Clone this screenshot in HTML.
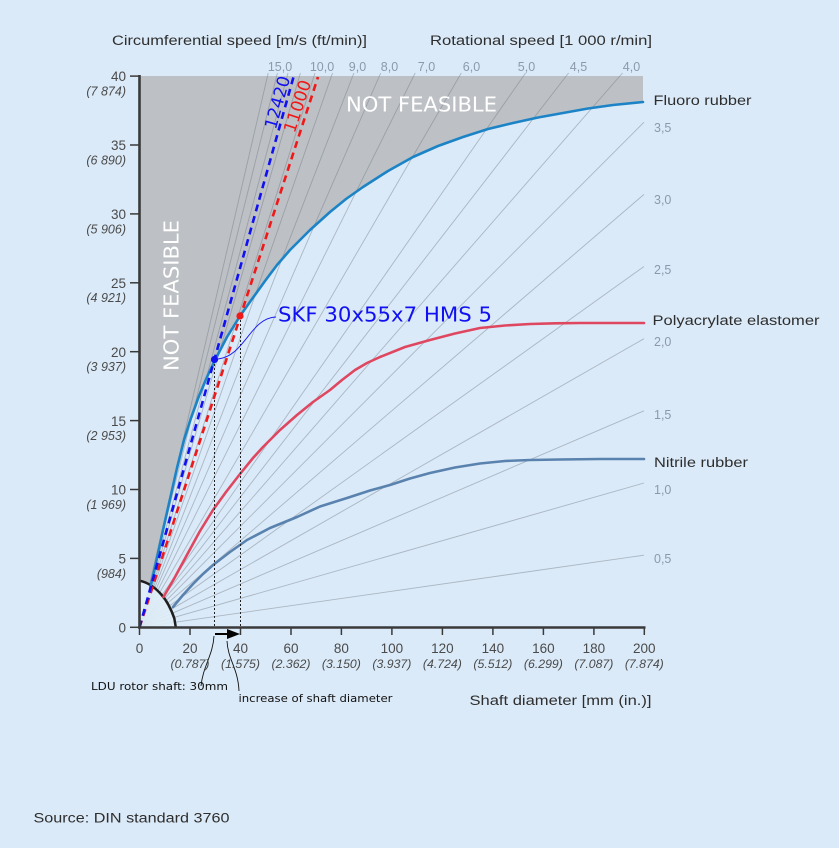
<!DOCTYPE html>
<html><head><meta charset="utf-8"><style>
html,body{margin:0;padding:0;background:#dbeaf8;}
svg{display:block;}
.t{font-family:"Liberation Sans","DejaVu Sans",sans-serif;}
.d{font-family:"DejaVu Sans","Liberation Sans",sans-serif;}
</style></head><body>
<svg width="839" height="848" viewBox="0 0 839 848" xmlns="http://www.w3.org/2000/svg">
<rect x="0" y="0" width="839" height="848" fill="#dbeaf8"/>

<!-- gray not-feasible region -->
<path fill="#bdc1c5" d="M139.5,76 L643,76 L643,102 L613,105 L588,108.5 L563,113 L538,117.5 L513,123 L488,129 L463,137 L438,146 L413,157 L388,171 L363,187 L346,199 L330,212 L310,230 L290,250 L277,265 L265,281 L252,299 L240,316 L227,337 L215,360 L207,377 L199,396 L191,418 L184,440 L177,468 L170,499 L163,530 L157,558 L150.5,586 L139.5,580.7 Z"/>

<!-- radial rotational speed lines -->
<g stroke="#6f7882" stroke-opacity="0.45" stroke-width="0.9" fill="none">
<line x1="139.5" y1="627.3" x2="644" y2="555.2"/>
<line x1="139.5" y1="627.3" x2="644" y2="483.0"/>
<line x1="139.5" y1="627.3" x2="644" y2="410.8"/>
<line x1="139.5" y1="627.3" x2="644" y2="338.7"/>
<line x1="139.5" y1="627.3" x2="644" y2="266.5"/>
<line x1="139.5" y1="627.3" x2="644" y2="194.4"/>
<line x1="139.5" y1="627.3" x2="644" y2="122.2"/>
<line x1="139.5" y1="627.3" x2="622.5" y2="73"/>
<line x1="139.5" y1="627.3" x2="568.6" y2="73"/>
<line x1="139.5" y1="627.3" x2="525.6" y2="73"/>
<line x1="139.5" y1="627.3" x2="461.3" y2="73"/>
<line x1="139.5" y1="627.3" x2="415.2" y2="73"/>
<line x1="139.5" y1="627.3" x2="380.7" y2="73"/>
<line x1="139.5" y1="627.3" x2="353.9" y2="73"/>
<line x1="139.5" y1="627.3" x2="332.5" y2="73"/>
<line x1="139.5" y1="627.3" x2="315" y2="73"/>
<line x1="139.5" y1="627.3" x2="300.4" y2="73"/>
<line x1="139.5" y1="627.3" x2="288" y2="73"/>
<line x1="139.5" y1="627.3" x2="277.4" y2="73"/>
<line x1="139.5" y1="627.3" x2="268.2" y2="73"/>
</g>

<!-- arc region fill -->
<path fill="#dfedf8" fill-opacity="0.93" d="M139.5,627.3 L139.5,580.7 C146,582 154,586 161.7,595 C167,601 171,609 174.3,618.3 L175.8,627.3 Z"/>
<path fill="none" stroke="#1e1e1e" stroke-width="2.5" d="M139.5,580.7 C146,582 154,586 161.7,595 C167,601 171,609 174.3,618.3 L175.8,627.3"/>

<!-- nitrile rubber -->
<polyline fill="none" stroke="#5a82ae" stroke-width="2.6" stroke-linejoin="round" stroke-linecap="round" points="173,607 183,595 193,584 203,574 213,565 230,552 247,540 270,528 297,517 320,506.5 347,498 370,490.5 390,485 410,478.5 430,473 455,467.5 480,463.5 505,461 530,460 560,459.5 600,459 644,459"/>

<!-- polyacrylate -->
<polyline fill="none" stroke="#df4760" stroke-width="2.6" stroke-linejoin="round" stroke-linecap="round" points="163.5,597 175,577 188,553 200,531 213,510 226,492 240,474 253,458 263,447 280,430 297,415 313,402 330,390 342,380 355,370 367,363 380,357 405,347 430,340 455,333.5 480,328 505,325.5 530,324 555,323.3 580,323 644,323"/>

<!-- fluoro rubber -->
<polyline fill="none" stroke="#1c84c6" stroke-width="2.6" stroke-linejoin="round" stroke-linecap="round" points="150.5,587 157,558 163,530 170,499 177,468 184,440 191,418 199,396 207,377 215,360 227,337 240,316 252,299 265,281 277,265 290,250 310,230 330,212 346,199 363,187 388,171 413,157 438,146 463,137 488,129 513,123 538,117.5 563,113 588,108.5 613,105 643,102"/>

<!-- dotted verticals -->
<g stroke="#222" stroke-width="1" stroke-dasharray="2,2">
<line x1="214.5" y1="360" x2="214.5" y2="627"/>
<line x1="240.5" y1="316" x2="240.5" y2="627"/>
</g>

<!-- dashed speed lines -->
<line x1="139.5" y1="627.3" x2="318" y2="77" stroke="#f01818" stroke-width="2.6" stroke-dasharray="7,5"/>
<line x1="139.5" y1="627.3" x2="293.5" y2="77" stroke="#1010f0" stroke-width="2.6" stroke-dasharray="7,5"/>

<text class="d" x="0" y="0" font-size="17" fill="#1010f0" text-anchor="middle" transform="translate(283,104) rotate(-74.4)">12420</text>
<text class="d" x="0" y="0" font-size="17" fill="#f01818" text-anchor="middle" transform="translate(303,108) rotate(-72.1)">11000</text>

<!-- dots & connector -->
<path d="M218,359 C245,356 250,318 276,317" fill="none" stroke="#1a1af0" stroke-width="0.9"/>
<circle cx="214.5" cy="359.5" r="3.6" fill="#1010f0"/>
<circle cx="240" cy="316" r="3.6" fill="#f01818"/>

<!-- NOT FEASIBLE -->
<text class="d" x="346" y="111.5" font-size="20.5" fill="#ffffff" textLength="151" lengthAdjust="spacingAndGlyphs">NOT FEASIBLE</text>
<text class="d" x="0" y="0" font-size="20.5" fill="#ffffff" textLength="151" lengthAdjust="spacingAndGlyphs" transform="translate(178.5,371) rotate(-90)">NOT FEASIBLE</text>

<!-- SKF label -->
<text class="d" x="278" y="321.5" font-size="20.5" fill="#1010f0" textLength="214" lengthAdjust="spacingAndGlyphs">SKF 30x55x7 HMS 5</text>

<!-- axes -->
<g stroke="#3a3a3a">
<line x1="139.5" y1="75" x2="139.5" y2="628.5" stroke-width="2.6"/>
<line x1="138" y1="627.5" x2="645.5" y2="627.5" stroke-width="2.6"/>
<g stroke-width="1.5">
<line x1="130" y1="76.1" x2="139" y2="76.1"/>
<line x1="130" y1="145" x2="139" y2="145"/>
<line x1="130" y1="213.9" x2="139" y2="213.9"/>
<line x1="130" y1="282.8" x2="139" y2="282.8"/>
<line x1="130" y1="351.7" x2="139" y2="351.7"/>
<line x1="130" y1="420.6" x2="139" y2="420.6"/>
<line x1="130" y1="489.5" x2="139" y2="489.5"/>
<line x1="130" y1="558.4" x2="139" y2="558.4"/>
<line x1="130" y1="627.3" x2="139" y2="627.3"/>
<line x1="139.5" y1="627" x2="139.5" y2="635"/>
<line x1="190" y1="627" x2="190" y2="635"/>
<line x1="240.5" y1="627" x2="240.5" y2="635"/>
<line x1="291" y1="627" x2="291" y2="635"/>
<line x1="341.4" y1="627" x2="341.4" y2="635"/>
<line x1="391.9" y1="627" x2="391.9" y2="635"/>
<line x1="442.4" y1="627" x2="442.4" y2="635"/>
<line x1="492.9" y1="627" x2="492.9" y2="635"/>
<line x1="543.4" y1="627" x2="543.4" y2="635"/>
<line x1="593.9" y1="627" x2="593.9" y2="635"/>
<line x1="644.3" y1="627" x2="644.3" y2="635"/>
</g>
</g>

<!-- arrow -->
<line x1="215" y1="634" x2="230" y2="634" stroke="#000" stroke-width="2"/>
<polygon points="227,629 240,634 227,639" fill="#000"/>
<path d="M214,636 C213,655 203,666 201,686" fill="none" stroke="#111" stroke-width="0.9"/>
<path d="M227,641 C228,660 238,668 239,691" fill="none" stroke="#111" stroke-width="0.9"/>

<!-- y labels -->
<g class="t" font-size="13.5" fill="#4a4a4a" text-anchor="end">
<text x="126" y="81">40</text>
<text x="126" y="150">35</text>
<text x="126" y="219">30</text>
<text x="126" y="288">25</text>
<text x="126" y="357">20</text>
<text x="126" y="426">15</text>
<text x="126" y="494.5">10</text>
<text x="126" y="563.5">5</text>
<text x="126" y="632.5">0</text>
</g>
<g class="t" font-size="12.5" font-style="italic" fill="#4a4a4a" text-anchor="end">
<text x="126" y="95.5">(7 874)</text>
<text x="126" y="164.5">(6 890)</text>
<text x="126" y="233.5">(5 906)</text>
<text x="126" y="302">(4 921)</text>
<text x="126" y="371">(3 937)</text>
<text x="126" y="440">(2 953)</text>
<text x="126" y="509">(1 969)</text>
<text x="126" y="578">(984)</text>
</g>

<!-- x labels -->
<g class="t" font-size="13.5" fill="#4a4a4a" text-anchor="middle">
<text x="139.5" y="653">0</text>
<text x="190" y="653">20</text>
<text x="240.5" y="653">40</text>
<text x="291" y="653">60</text>
<text x="341.4" y="653">80</text>
<text x="391.9" y="653">100</text>
<text x="442.4" y="653">120</text>
<text x="492.9" y="653">140</text>
<text x="543.4" y="653">160</text>
<text x="593.9" y="653">180</text>
<text x="644.3" y="653">200</text>
</g>
<g class="t" font-size="12.3" font-style="italic" fill="#4a4a4a" text-anchor="middle">
<text x="190" y="668">(0.787)</text>
<text x="240.5" y="668">(1.575)</text>
<text x="291" y="668">(2.362)</text>
<text x="341.4" y="668">(3.150)</text>
<text x="391.9" y="668">(3.937)</text>
<text x="442.4" y="668">(4.724)</text>
<text x="492.9" y="668">(5.512)</text>
<text x="543.4" y="668">(6.299)</text>
<text x="593.9" y="668">(7.087)</text>
<text x="644.3" y="668">(7.874)</text>
</g>

<!-- rotational speed labels -->
<g class="t" font-size="12.5" fill="#8c99ad" text-anchor="middle">
<text x="280" y="71">15,0</text>
<text x="322" y="71">10,0</text>
<text x="357.5" y="71">9,0</text>
<text x="389.5" y="71">8,0</text>
<text x="426.5" y="71">7,0</text>
<text x="471.5" y="71">6,0</text>
<text x="526.5" y="71">5,0</text>
<text x="578.5" y="71">4,5</text>
<text x="631.5" y="71">4,0</text>
</g>
<g class="t" font-size="12.5" fill="#8c99ad">
<text x="654" y="132">3,5</text>
<text x="654" y="204">3,0</text>
<text x="654" y="274">2,5</text>
<text x="654" y="346">2,0</text>
<text x="654" y="419">1,5</text>
<text x="654" y="494">1,0</text>
<text x="654" y="563">0,5</text>
</g>

<!-- axis titles -->
<g class="t" font-size="13.5" fill="#2e2e2e">
<text x="112" y="45" textLength="255" lengthAdjust="spacingAndGlyphs">Circumferential speed [m/s (ft/min)]</text>
<text x="430" y="45" textLength="222" lengthAdjust="spacingAndGlyphs">Rotational speed [1 000 r/min]</text>
<text x="469.5" y="705" textLength="182" lengthAdjust="spacingAndGlyphs">Shaft diameter [mm (in.)]</text>
<text x="653.5" y="105" textLength="98" lengthAdjust="spacingAndGlyphs">Fluoro rubber</text>
<text x="652.5" y="325" textLength="167" lengthAdjust="spacingAndGlyphs">Polyacrylate elastomer</text>
<text x="654" y="467" textLength="94" lengthAdjust="spacingAndGlyphs">Nitrile rubber</text>
<text x="33.5" y="822.5" textLength="196" lengthAdjust="spacingAndGlyphs">Source: DIN standard 3760</text>
</g>

<!-- annotations -->
<g class="d" font-size="11" fill="#111">
<text x="91" y="690" textLength="137" lengthAdjust="spacingAndGlyphs">LDU rotor shaft: 30mm</text>
<text x="238.5" y="702" textLength="154" lengthAdjust="spacingAndGlyphs">increase of shaft diameter</text>
</g>
</svg>
</body></html>
